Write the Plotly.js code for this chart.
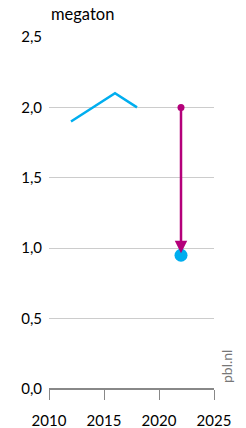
<!DOCTYPE html>
<html><head><meta charset="utf-8">
<script src="https://cdn.plot.ly/plotly-3.0.1.min.js"></script>
<style>html,body{margin:0;padding:0;background:#fff}#c{width:246px;height:428px}</style>
</head><body><div id="c"></div>
<script>
const lineYears = [2012, 2016, 2018];
const lineValues = [1.9, 2.1, 2.0];
const targetYear = [2022];
const targetStart = [2.0];
const targetEnd = [0.95];
const xTicks = [2010, 2015, 2020, 2025];
const yTicks = [0, 0.5, 1, 1.5, 2, 2.5];

const blue = '#00aeef';
const magenta = '#b4007a';

const traces = [
  {x: lineYears, y: lineValues, mode: 'lines', line: {color: blue, width: 2.5}, hoverinfo: 'skip'},
  {x: targetYear, y: targetStart, mode: 'markers', marker: {color: magenta, size: 7}, hoverinfo: 'skip'},
  {x: targetYear, y: targetEnd, mode: 'markers', marker: {color: blue, size: 13}, hoverinfo: 'skip'}
];

const layout = {
  width: 246, height: 428,
  margin: {l: 49, r: 32, t: 37, b: 39},
  showlegend: false,
  separators: ',.',
  paper_bgcolor: '#fff', plot_bgcolor: '#fff',
  font: {family: 'Lato, "Open Sans", sans-serif', size: 14, color: '#000'},
  xaxis: {
    range: [2010, 2025], tickvals: xTicks, ticktext: xTicks.map(String),
    showgrid: false, zeroline: false, showline: false,
    ticks: 'outside', ticklen: 10, tickcolor: '#888', tickwidth: 1,
    ticklabelstandoff: 8, automargin: false,
    tickfont: {size: 15}, fixedrange: true
  },
  yaxis: {
    range: [0, 2.5], tickvals: yTicks, tickformat: '.1f',
    showgrid: true, gridcolor: '#cccccc', gridwidth: 1,
    zeroline: true, zerolinecolor: '#888', zerolinewidth: 1.5,
    showline: false, ticks: '', ticklabelstandoff: 6, automargin: false,
    tickfont: {size: 15}, fixedrange: true
  },
  annotations: [
    {x: targetYear[0], y: targetEnd[0] + 0.015, ax: targetYear[0], ay: targetStart[0],
     xref: 'x', yref: 'y', axref: 'x', ayref: 'y',
     showarrow: true, arrowhead: 2, arrowsize: 1.0, arrowwidth: 2.5, arrowcolor: magenta, text: ''},
    {text: 'megaton', xref: 'paper', yref: 'paper', x: 0, y: 1, xanchor: 'left', yanchor: 'bottom',
     yshift: 11, showarrow: false, font: {size: 16.5, color: '#000'}},
    {text: 'pbl.nl', xref: 'paper', yref: 'paper', x: 1, y: 0, xanchor: 'left', yanchor: 'bottom',
     xshift: 2, yshift: 4, textangle: -90, showarrow: false, font: {size: 14, color: '#777'}}
  ]
};

Plotly.newPlot('c', traces, layout, {displayModeBar: false, staticPlot: true});
</script></body></html>
